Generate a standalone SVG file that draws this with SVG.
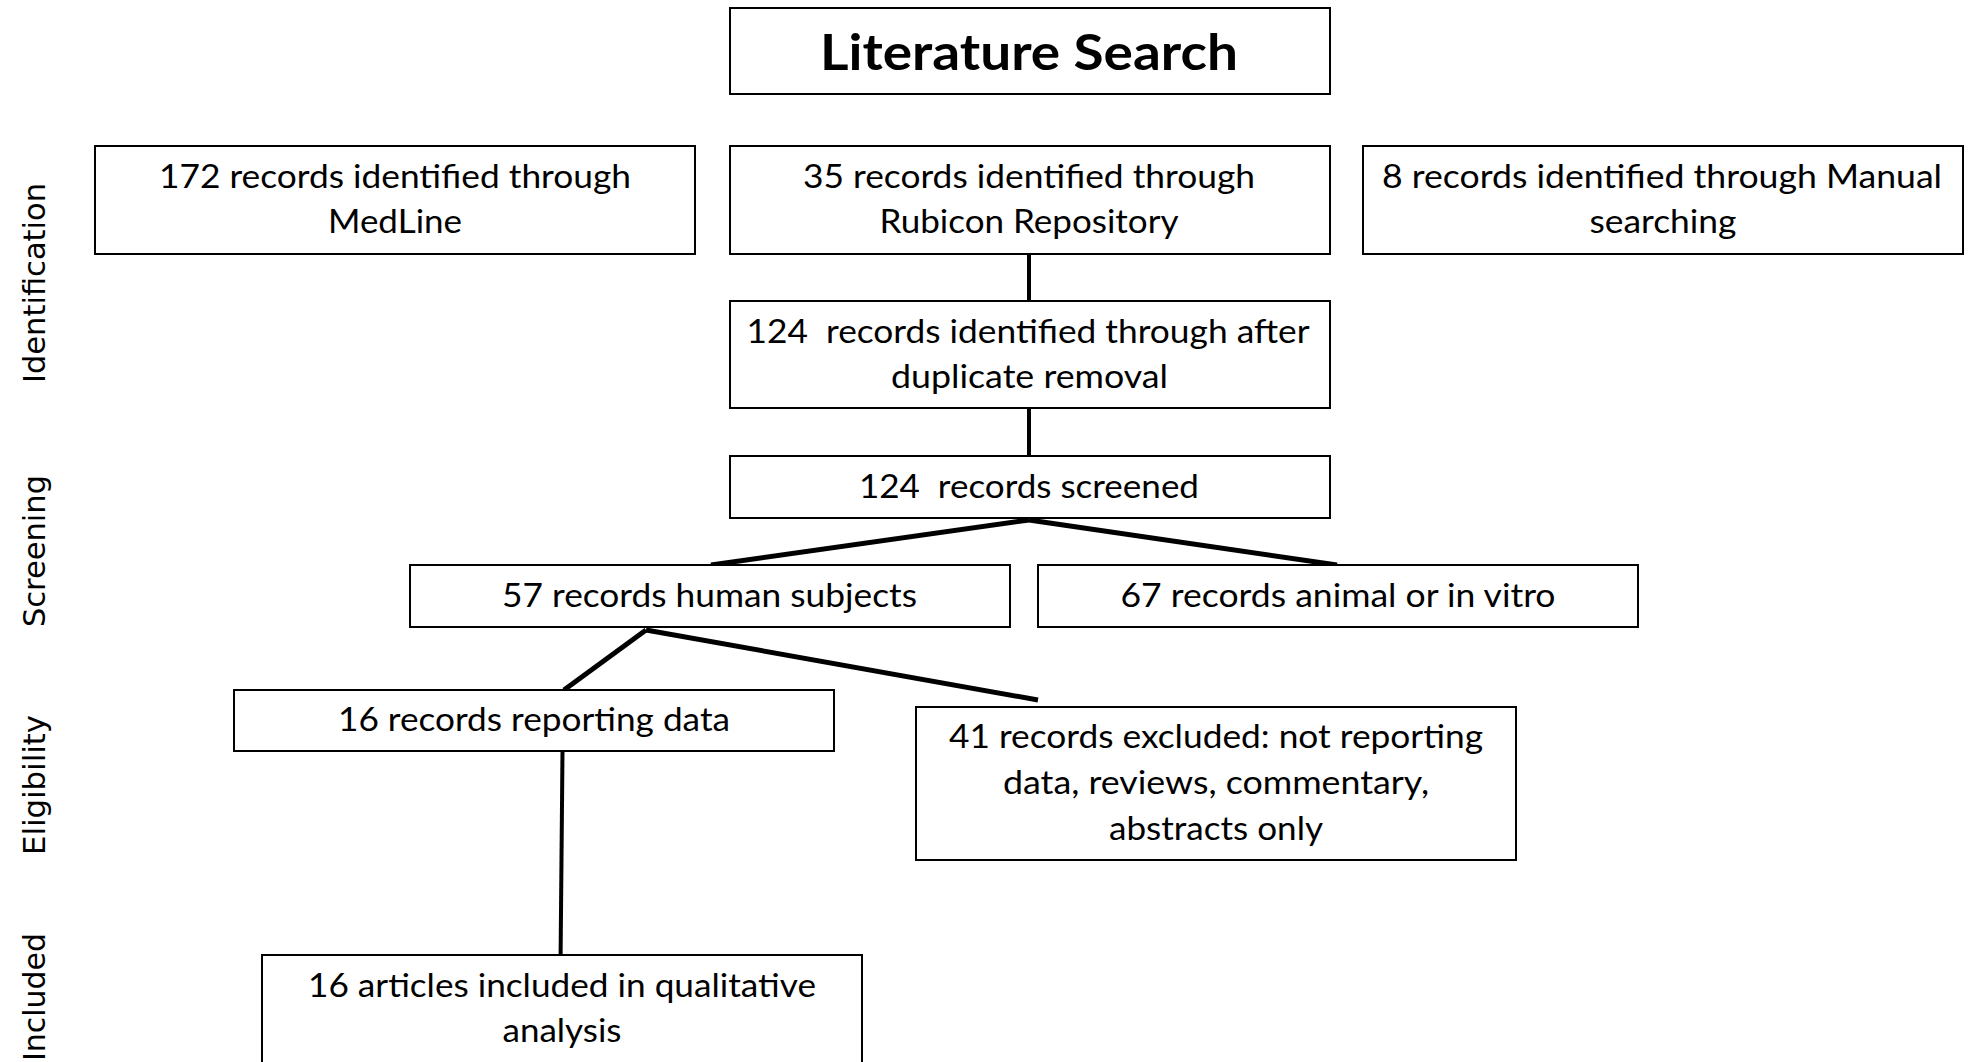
<svg xmlns="http://www.w3.org/2000/svg" width="1973" height="1062" viewBox="0 0 1973 1062">
<style>
.box{fill:#fff;stroke:#000;stroke-width:2}
.t{font-family:Lato,"Open Sans","Liberation Sans",sans-serif;font-size:32px;fill:#000;text-anchor:middle}
.title{font-family:Lato,"Open Sans","Liberation Sans",sans-serif;font-size:50px;font-weight:bold;fill:#000;text-anchor:middle}
.lab{font-family:"DejaVu Sans",Verdana,sans-serif;font-size:30px;fill:#000;text-anchor:middle}
.c{stroke:#000;stroke-width:5;fill:none}
.cv{stroke:#000;stroke-width:4;fill:none}
</style>
<rect width="1973" height="1062" fill="#fff"/>
<g id="stage-labels">
<text class="lab" transform="translate(45,283) rotate(-90)" textLength="200" lengthAdjust="spacingAndGlyphs">Identification</text>
<text class="lab" transform="translate(45,551) rotate(-90)" textLength="152" lengthAdjust="spacingAndGlyphs">Screening</text>
<text class="lab" transform="translate(45,785) rotate(-90)" textLength="140" lengthAdjust="spacingAndGlyphs">Eligibility</text>
<text class="lab" transform="translate(45,997) rotate(-90)" textLength="128" lengthAdjust="spacingAndGlyphs">Included</text>
</g>
<g id="connectors">
<line class="cv" x1="1029" y1="254" x2="1029" y2="301"/>
<line class="cv" x1="1029" y1="408" x2="1029" y2="456"/>
<line class="c" x1="1029" y1="520" x2="711" y2="565"/>
<line class="c" x1="1029" y1="520" x2="1337" y2="565"/>
<line class="c" x1="646" y1="630" x2="564" y2="690"/>
<line class="c" x1="646" y1="630" x2="1038" y2="700"/>
<line class="cv" x1="562.5" y1="751" x2="560.6" y2="955"/>
</g>
<g id="n-lit">
<rect class="box" x="730" y="8" width="600" height="86"/>
<text class="title" x="1029" y="70" textLength="418" lengthAdjust="spacingAndGlyphs">Literature Search</text>
</g>
<g id="n-medline">
<rect class="box" x="95" y="146" width="600" height="108"/>
<text class="t" x="395" y="188" textLength="472" lengthAdjust="spacingAndGlyphs">172 records identified through</text>
<text class="t" x="395" y="233" textLength="134" lengthAdjust="spacingAndGlyphs">MedLine</text>
</g>
<g id="n-rubicon">
<rect class="box" x="730" y="146" width="600" height="108"/>
<text class="t" x="1029" y="188" textLength="452" lengthAdjust="spacingAndGlyphs">35 records identified through</text>
<text class="t" x="1029" y="233" textLength="299" lengthAdjust="spacingAndGlyphs">Rubicon Repository</text>
</g>
<g id="n-manual">
<rect class="box" x="1363" y="146" width="600" height="108"/>
<text class="t" x="1662" y="188" textLength="560" lengthAdjust="spacingAndGlyphs">8 records identified through Manual</text>
<text class="t" x="1663" y="233" textLength="147" lengthAdjust="spacingAndGlyphs">searching</text>
</g>
<g id="n-dedup">
<rect class="box" x="730" y="301" width="600" height="107"/>
<text class="t" x="1028" y="343" textLength="563" lengthAdjust="spacingAndGlyphs" xml:space="preserve">124  records identified through after</text>
<text class="t" x="1029.5" y="388" textLength="277" lengthAdjust="spacingAndGlyphs">duplicate removal</text>
</g>
<g id="n-screened">
<rect class="box" x="730" y="456" width="600" height="62"/>
<text class="t" x="1029" y="498" textLength="340" lengthAdjust="spacingAndGlyphs" xml:space="preserve">124  records screened</text>
</g>
<g id="n-human">
<rect class="box" x="410" y="565" width="600" height="62"/>
<text class="t" x="709.5" y="607" textLength="415" lengthAdjust="spacingAndGlyphs">57 records human subjects</text>
</g>
<g id="n-animal">
<rect class="box" x="1038" y="565" width="600" height="62"/>
<text class="t" x="1338" y="607" textLength="435" lengthAdjust="spacingAndGlyphs">67 records animal or in vitro</text>
</g>
<g id="n-reporting">
<rect class="box" x="234" y="690" width="600" height="61"/>
<text class="t" x="534" y="731" textLength="392" lengthAdjust="spacingAndGlyphs">16 records reporting data</text>
</g>
<g id="n-excluded">
<rect class="box" x="916" y="707" width="600" height="153"/>
<text class="t" x="1216" y="748" textLength="534" lengthAdjust="spacingAndGlyphs">41 records excluded: not reporting</text>
<text class="t" x="1216" y="794" textLength="426" lengthAdjust="spacingAndGlyphs">data, reviews, commentary,</text>
<text class="t" x="1216" y="840" textLength="214" lengthAdjust="spacingAndGlyphs">abstracts only</text>
</g>
<g id="n-included">
<rect class="box" x="262" y="955" width="600" height="112"/>
<text class="t" x="562" y="997" textLength="508" lengthAdjust="spacingAndGlyphs">16 articles included in qualitative</text>
<text class="t" x="562" y="1042" textLength="119" lengthAdjust="spacingAndGlyphs">analysis</text>
</g>
</svg>
